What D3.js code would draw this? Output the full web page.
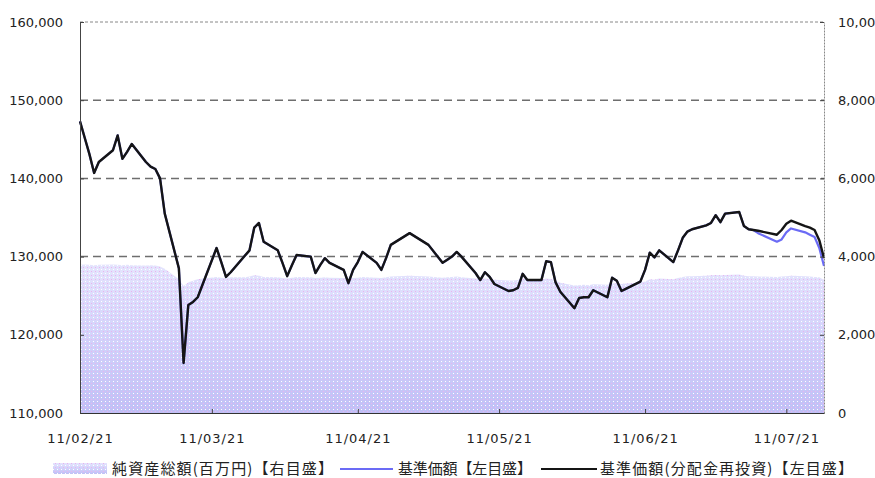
<!DOCTYPE html>
<html>
<head>
<meta charset="utf-8">
<script src="https://cdn.jsdelivr.net/npm/d3@7"></script>
<style>
body { margin: 0; background: #fff; }
svg text { font-family: "DejaVu Sans", sans-serif; font-size: 13px; fill: #222; }
.legend text { font-family: "Noto Sans CJK JP", sans-serif; font-size: 15px; fill: #222; }
</style>
</head>
<body>
<div id="chart"></div>
<script>
// business days 2011/02/21 - 2011/07/29
const dates = [
    "2011-02-21","2011-02-22","2011-02-23","2011-02-24","2011-02-25","2011-02-28",
    "2011-03-01","2011-03-02","2011-03-03","2011-03-04","2011-03-07","2011-03-08","2011-03-09","2011-03-10","2011-03-11",
    "2011-03-14","2011-03-15","2011-03-16","2011-03-17","2011-03-18","2011-03-22","2011-03-23","2011-03-24","2011-03-25",
    "2011-03-28","2011-03-29","2011-03-30","2011-03-31",
    "2011-04-01","2011-04-04","2011-04-05","2011-04-06","2011-04-07","2011-04-08","2011-04-11","2011-04-12","2011-04-13",
    "2011-04-14","2011-04-15","2011-04-18","2011-04-19","2011-04-20","2011-04-21","2011-04-22","2011-04-25","2011-04-26",
    "2011-04-27","2011-04-28",
    "2011-05-02","2011-05-06","2011-05-09","2011-05-10","2011-05-11","2011-05-12","2011-05-13","2011-05-16","2011-05-17",
    "2011-05-18","2011-05-19","2011-05-20","2011-05-23","2011-05-24","2011-05-25","2011-05-26","2011-05-27","2011-05-30",
    "2011-05-31",
    "2011-06-01","2011-06-02","2011-06-03","2011-06-06","2011-06-07","2011-06-08","2011-06-09","2011-06-10","2011-06-13",
    "2011-06-14","2011-06-15","2011-06-16","2011-06-17","2011-06-20","2011-06-21","2011-06-22","2011-06-23","2011-06-24",
    "2011-06-27","2011-06-28","2011-06-29","2011-06-30",
    "2011-07-01","2011-07-04","2011-07-05","2011-07-06","2011-07-07","2011-07-08","2011-07-11","2011-07-12","2011-07-13",
    "2011-07-14","2011-07-15","2011-07-19","2011-07-20","2011-07-21","2011-07-22","2011-07-25","2011-07-26","2011-07-27",
    "2011-07-28","2011-07-29"
];

// 基準価額(分配金再投資)
const navReinvest = [
    147300, 145200, 143100, 140700, 142100, 143600,
    145500, 142500, 143400, 144400, 142100, 141500, 141200, 140000, 135500,
    128500, 116400, 123800, 124200, 124800, 131100, 129300, 127400, 128000,
    130100, 130800, 133700, 134300,
    131900, 130800, 129200, 127500, 128900, 130200, 130000, 127900, 128900,
    129800, 129200, 128300, 126600, 128300, 129300, 130600, 129200, 128300,
    129800, 131500,
    133000, 131500, 129200, 129600, 130000, 130600, 130000, 127900, 127000,
    128000, 127400, 126500, 125600, 125700, 126000, 127800, 127000, 127000,
    129400,
    129300, 126700, 125500, 123400, 124700, 124800, 124800, 125700, 124800,
    127300, 126900, 125600, 125900, 126800, 128300, 130500, 129900, 130800,
    129300, 130800, 132400, 133200,
    133500, 134000, 134300, 135300, 134400, 135500, 135700, 133900, 133500,
    133400, 133300, 132800, 133400, 134200, 134600, 133900, 133700, 133400,
    132100, 129800
];

// 基準価額
const nav = [
    147300, 145200, 143100, 140700, 142100, 143600,
    145500, 142500, 143400, 144400, 142100, 141500, 141200, 140000, 135500,
    128500, 116400, 123800, 124200, 124800, 131100, 129300, 127400, 128000,
    130100, 130800, 133700, 134300,
    131900, 130800, 129200, 127500, 128900, 130200, 130000, 127900, 128900,
    129800, 129200, 128300, 126600, 128300, 129300, 130600, 129200, 128300,
    129800, 131500,
    133000, 131500, 129200, 129600, 130000, 130600, 130000, 127900, 127000,
    128000, 127400, 126500, 125600, 125700, 126000, 127800, 127000, 127000,
    129400,
    129300, 126700, 125500, 123400, 124700, 124800, 124800, 125700, 124800,
    127300, 126900, 125600, 125900, 126800, 128300, 130500, 129900, 130800,
    129300, 130800, 132400, 133200,
    133500, 134000, 134300, 135300, 134400, 135500, 135700, 133900, 133500,
    133400, 133000, 131900, 132200, 133100, 133600, 133100, 132800, 132500,
    131100, 128800
];

// 純資産総額(百万円)
const netAssets = [
    3790, 3800, 3790, 3780, 3790, 3800,
    3790, 3780, 3790, 3780, 3770, 3780, 3770, 3750, 3690,
    3420, 3250, 3340, 3380, 3420, 3480, 3460, 3450, 3470,
    3470, 3490, 3520, 3510,
    3480, 3470, 3450, 3440, 3460, 3480, 3470, 3450, 3460,
    3470, 3460, 3450, 3440, 3450, 3460, 3480, 3460, 3450,
    3470, 3490,
    3510, 3490, 3460, 3470, 3480, 3490, 3470, 3440, 3430,
    3440, 3430, 3410, 3390, 3390, 3400, 3430, 3420, 3410,
    3440,
    3430, 3380, 3330, 3260, 3270, 3280, 3270, 3290, 3280,
    3320, 3310, 3300, 3310, 3330, 3360, 3420, 3410, 3440,
    3420, 3450, 3480, 3500,
    3500, 3510, 3520, 3530, 3520, 3530, 3540, 3510, 3500,
    3500, 3490, 3480, 3490, 3500, 3510, 3500, 3490, 3480,
    3470, 3400
];

const leftTicks = [110000, 120000, 130000, 140000, 150000, 160000];
const rightTicks = [0, 2000, 4000, 6000, 8000, 10000];
const xTicks = ["2011-02-21", "2011-03-21", "2011-04-21", "2011-05-21", "2011-06-21", "2011-07-21"];
const xDomain = ["2011-02-21", "2011-07-29"];
const legendLabels = ["純資産総額(百万円)【右目盛】", "基準価額【左目盛】", "基準価額(分配金再投資)【左目盛】"];

const parse = d3.timeParse("%Y-%m-%d");

const chart = {
    svgWidth: 875,
    svgHeight: 478,
    margin: {"top": 22, "bottom": 65, "left": 80, "right": 51},
};
chart.bottom = chart.svgHeight - chart.margin.bottom;
chart.right = chart.svgWidth - chart.margin.right;

const svg = d3.select("#chart").append("svg")
    .attr("width", chart.svgWidth)
    .attr("height", chart.svgHeight);

// scales
const xScale = d3.scaleTime()
    .domain(xDomain.map(parse))
    .range([chart.margin.left, chart.right]);

const yLeft = d3.scaleLinear()
    .domain([110000, 160000])
    .range([chart.bottom, chart.margin.top]);

const yRight = d3.scaleLinear()
    .domain([0, 10000])
    .range([chart.bottom, chart.margin.top]);

const rows = dates.map((d, i) => ({
    date: parse(d),
    nav: nav[i],
    navReinvest: navReinvest[i],
    assets: netAssets[i],
}));

// fill: gradient + dotted dither like the original gif
const defs = svg.append("defs");
const grad = defs.append("linearGradient")
    .attr("id", "areaGrad")
    .attr("x1", 0).attr("y1", 0).attr("x2", 0).attr("y2", 1);
grad.append("stop").attr("offset", "0%").attr("stop-color", "#e4e4fd");
grad.append("stop").attr("offset", "45%").attr("stop-color", "#d4d4fb");
grad.append("stop").attr("offset", "100%").attr("stop-color", "#c0c0f6");

const pat = defs.append("pattern")
    .attr("id", "dots")
    .attr("patternUnits", "userSpaceOnUse")
    .attr("width", 4).attr("height", 4);
pat.append("rect").attr("x", 1).attr("y", 1).attr("width", 1).attr("height", 1).attr("fill", "#ffffff");
pat.append("rect").attr("x", 3).attr("y", 3).attr("width", 1).attr("height", 1).attr("fill", "#eab2ee");

// gridlines (behind the area)
svg.append("g")
    .attr("class", "grid")
    .selectAll("line")
    .data(leftTicks.slice(1, -1))
    .enter().append("line")
    .attr("x1", chart.margin.left).attr("x2", chart.right)
    .attr("y1", d => yLeft(d)).attr("y2", d => yLeft(d))
    .attr("stroke", "#6e6e6e")
    .attr("stroke-width", 1.5)
    .attr("stroke-dasharray", "8,5");

// top border
svg.append("line")
    .attr("x1", chart.margin.left).attr("x2", chart.right)
    .attr("y1", chart.margin.top).attr("y2", chart.margin.top)
    .attr("stroke", "#888")
    .attr("stroke-dasharray", "3,2");

// net assets area, right axis
const area = d3.area()
    .x(d => xScale(d.date))
    .y0(yRight(0))
    .y1(d => yRight(d.assets));

svg.append("path").datum(rows)
    .attr("d", area)
    .attr("fill", "url(#areaGrad)");
svg.append("path").datum(rows)
    .attr("d", area)
    .attr("fill", "url(#dots)");

// lines, left axis
const navLine = d3.line()
    .x(d => xScale(d.date))
    .y(d => yLeft(d.nav));
const reinvestLine = d3.line()
    .x(d => xScale(d.date))
    .y(d => yLeft(d.navReinvest));

svg.append("path").datum(rows)
    .attr("d", navLine)
    .attr("fill", "none")
    .attr("stroke", "#6b6bf5")
    .attr("stroke-width", 2.2)
    .attr("stroke-linejoin", "round");

svg.append("path").datum(rows)
    .attr("d", reinvestLine)
    .attr("fill", "none")
    .attr("stroke", "#151515")
    .attr("stroke-width", 2.4)
    .attr("stroke-linejoin", "round");

// axes
const fmt = d3.format(",");
const leftAxis = d3.axisLeft(yLeft)
    .tickValues(leftTicks)
    .tickFormat(fmt)
    .tickSizeInner(-4)
    .tickSizeOuter(0)
    .tickPadding(17);

const rightAxis = d3.axisRight(yRight)
    .tickValues(rightTicks)
    .tickFormat(fmt)
    .tickSizeInner(-4)
    .tickSizeOuter(0)
    .tickPadding(14);

const xAxis = d3.axisBottom(xScale)
    .tickValues(xTicks.map(parse))
    .tickFormat(d3.timeFormat("%y/%m/%d"))
    .tickSizeInner(-4)
    .tickSizeOuter(0)
    .tickPadding(21);

const gLeft = svg.append("g")
    .attr("transform", "translate(" + chart.margin.left + ",0)")
    .call(leftAxis);
gLeft.select(".domain").attr("stroke", "#444");

const gRight = svg.append("g")
    .attr("transform", "translate(" + chart.right + ",0)")
    .call(rightAxis);
gRight.select(".domain").attr("stroke", "#888").attr("stroke-dasharray", "2,1");

const gBottom = svg.append("g")
    .attr("transform", "translate(0," + chart.bottom + ")")
    .call(xAxis);
gBottom.select(".domain").attr("stroke", "#333");
gBottom.selectAll("text").attr("letter-spacing", "1px");

svg.selectAll(".tick line").attr("stroke", "#444");
svg.selectAll(".tick text").attr("fill", "#222").style("font-family", "DejaVu Sans").style("font-size", "13px");

// legend
const legend = svg.append("g").attr("class", "legend");
const legY = 469;

legend.append("rect")
    .attr("x", 53).attr("y", legY - 6)
    .attr("width", 54).attr("height", 11)
    .attr("fill", "url(#areaGrad)");
legend.append("rect")
    .attr("x", 53).attr("y", legY - 6)
    .attr("width", 54).attr("height", 11)
    .attr("fill", "url(#dots)");

legend.append("line")
    .attr("x1", 340).attr("x2", 393)
    .attr("y1", legY).attr("y2", legY)
    .attr("stroke", "#6b6bf5").attr("stroke-width", 2);

legend.append("line")
    .attr("x1", 541).attr("x2", 597)
    .attr("y1", legY).attr("y2", legY)
    .attr("stroke", "#151515").attr("stroke-width", 2.2);

// text extents
const legX = [112, 398, 600];
const legW = [221, 134, 253];
legend.selectAll("text")
    .data(legendLabels)
    .enter().append("text")
    .attr("x", (d, i) => legX[i])
    .attr("y", legY)
    .attr("dy", "0.35em")
    .attr("textLength", (d, i) => legW[i])
    .attr("lengthAdjust", "spacing")
    .text(d => d);
</script>
</body>
</html>
